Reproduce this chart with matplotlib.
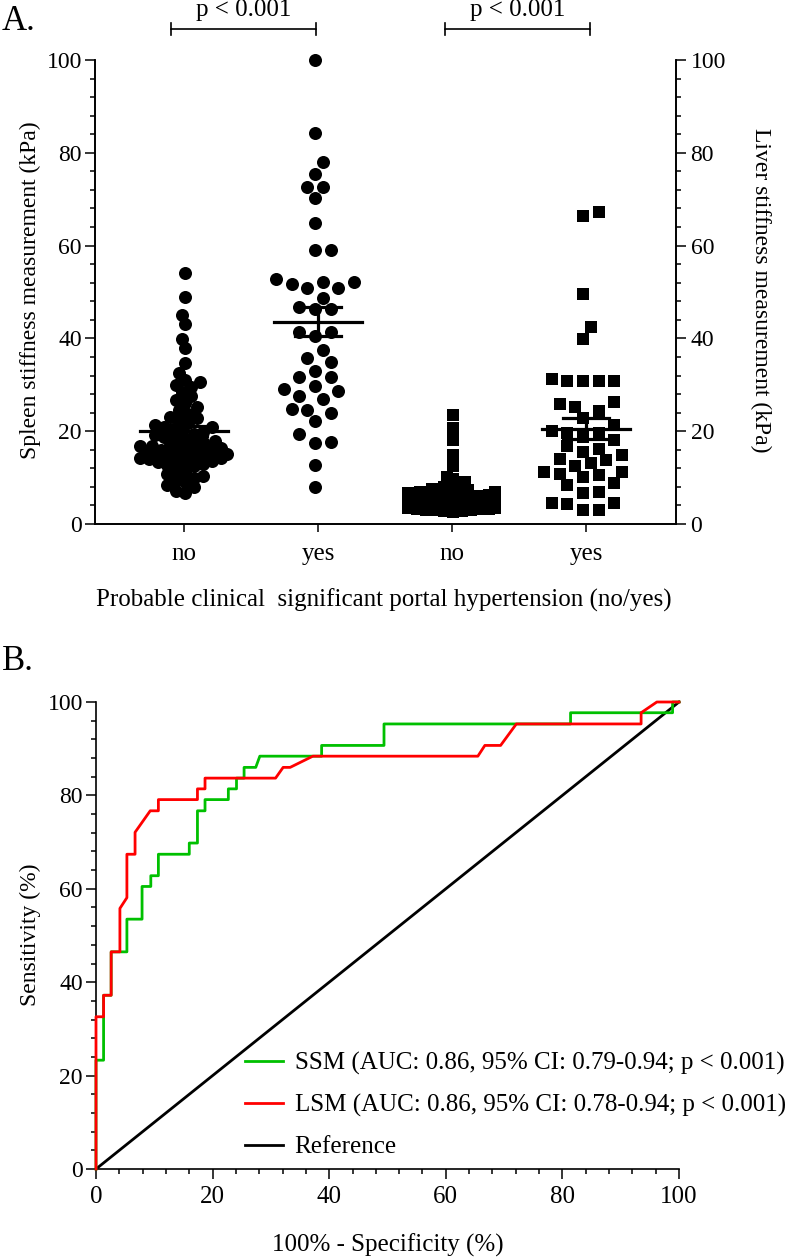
import numpy as np
import matplotlib
matplotlib.use("Agg")
import matplotlib.pyplot as plt
from matplotlib.ticker import MultipleLocator

plt.rcParams['font.family'] = ['Liberation Serif', 'DejaVu Serif']
plt.rcParams['font.size'] = 17

# ---- panel A: stiffness values (kPa) ----
ssm_no = [54.0, 49.0, 45.0, 43.1, 39.8, 37.9, 34.6, 32.6, 31.0, 30.5, 30.0,
          29.5, 28.5, 27.5, 26.8, 26.0, 25.2, 24.5, 23.8, 23.0, 22.4, 22.8, 21.0,
          21.8, 21.3, 20.9, 20.5, 20.1, 19.8, 19.5, 19.1, 18.8, 18.5, 18.2,
          17.9, 17.6, 17.3, 17.0, 16.8, 16.6, 16.4, 16.2, 16.0, 15.8, 15.6, 15.4,
          15.2, 15.1, 15.0, 14.8, 14.7, 14.6, 14.5, 14.4, 14.3, 14.2, 14.0, 13.8,
          13.6, 13.4, 13.2, 13.0, 16.9,
          12.7, 12.4, 11.8, 11.1, 10.7, 10.3, 9.9, 9.5, 9.0, 8.5, 7.9, 7.2, 6.6]
ssm_yes = [100.0, 84.2, 78.1, 75.4, 72.7, 72.7, 70.2, 64.8, 59.1, 59.1, 52.7, 51.7,
           52.2, 52.2, 50.8, 50.8, 48.8, 46.8, 46.4, 46.4, 41.4, 40.5, 41.4, 37.5,
           35.0, 35.7, 33.0, 31.6, 31.6, 29.8, 29.0, 28.7, 26.9, 27.5, 24.8, 23.9,
           24.6, 22.1, 19.4, 17.4, 17.7, 12.7, 8.0]
lsm_no = [23.5, 20.6, 18.1, 14.9, 12.4, 10.2, 9.6, 9.0, 8.6, 8.2, 7.9, 7.6, 7.4,
          7.2, 7.0, 6.8, 6.6, 6.5, 6.4, 6.2, 6.1, 6.0, 5.9, 5.8, 5.7, 5.6, 5.5, 5.4,
          5.3, 5.2, 5.1, 5.0, 4.9, 4.8, 4.7, 4.6, 4.5, 4.4, 4.3, 4.2, 4.1, 4.0, 3.9,
          3.8, 3.7, 3.6, 3.5, 3.4, 3.3, 3.2, 3.1, 3.0, 2.9, 2.8, 2.6, 6.9, 6.3, 5.9,
          5.5, 5.0, 4.8, 4.5, 4.2, 4.0, 3.8, 3.6, 3.4, 3.2, 3.0, 5.2, 4.6, 4.4, 3.9,
          3.5, 5.6, 6.1]
lsm_yes = [67.3, 66.4, 49.5, 42.4, 39.8, 30.9, 30.9, 30.9, 30.9, 31.3, 26.4, 25.9,
           25.3, 24.4, 22.9, 21.3, 20.1, 19.6, 19.6, 18.0, 18.7, 16.2, 15.6, 16.8,
           14.9, 14.0, 13.8, 13.2, 12.4, 11.3, 11.2, 10.8, 10.5, 10.2, 8.8, 8.3,
           6.6, 6.8, 4.5, 4.6, 4.4, 3.0, 3.1]
group_labels = ["no", "yes", "no", "yes"]

# ---- panel B: ROC curve vertices (100% - specificity, sensitivity) ----
ssm_fpr = [0, 0, 1.3, 1.3, 2.6, 2.6, 5.3, 5.3, 7.9, 7.9, 9.4, 9.4, 10.7, 10.7,
           16.0, 16.0, 17.4, 17.4, 18.7, 18.7, 22.7, 22.7, 24.1, 24.1, 25.4, 25.4,
           27.4, 28.1, 38.7, 38.7, 49.4, 49.4, 81.4, 81.4, 98.9, 98.9, 100]
ssm_tpr = [0, 23.3, 23.3, 37.2, 37.2, 46.5, 46.5, 53.5, 53.5, 60.5, 60.5, 62.8,
           62.8, 67.4, 67.4, 69.8, 69.8, 76.7, 76.7, 79.1, 79.1, 81.4, 81.4, 83.7,
           83.7, 86.0, 86.0, 88.4, 88.4, 90.7, 90.7, 95.3, 95.3, 97.7, 97.7, 100, 100]
lsm_fpr = [0, 0, 1.3, 1.3, 2.6, 2.6, 4.1, 4.1, 5.3, 5.3, 6.7, 6.7, 9.3, 10.7, 10.7,
           17.4, 17.4, 18.7, 18.7, 30.8, 32.1, 33.3, 37.2, 65.5, 66.7, 69.4, 72.1,
           93.5, 93.5, 96.2, 100]
lsm_tpr = [0, 32.6, 32.6, 37.2, 37.2, 46.5, 46.5, 55.8, 58.1, 67.4, 67.4, 72.1,
           76.7, 76.7, 79.1, 79.1, 81.4, 81.4, 83.7, 83.7, 86.0, 86.0, 88.4, 88.4,
           90.7, 90.7, 95.3, 95.3, 97.7, 100, 100]
legend_labels = ["SSM (AUC: 0.86, 95% CI: 0.79-0.94; p < 0.001)",
                 "LSM (AUC: 0.86, 95% CI: 0.78-0.94; p < 0.001)",
                 "Reference"]


def swarm_offsets(values, px_x, px_y, diam, step, cap):
    # simple column swarm, falls back to least overlap when the column is full
    values = np.asarray(values, dtype=float)
    cands = np.arange(-cap, cap + 0.01, step)
    cands = cands[np.argsort(np.abs(cands), kind='stable')]
    placed = []
    offs = np.zeros(len(values))
    for i in np.argsort(values):
        y = values[i] * px_y
        best, best_d = 0.0, -1.0
        for c in cands:
            d = min([np.hypot(c - a, y - b) for a, b in placed], default=np.inf)
            if d >= diam:
                best = c
                break
            if d > best_d:
                best_d, best = d, c
        offs[i] = best
        placed.append((best, y))
    return offs / px_x


fig = plt.figure(figsize=(7.9, 12.59), dpi=100)
W, H = 790, 1259

# ================= panel A =================
ax = fig.add_axes([95 / W, 1 - 524 / H, (676 - 95) / W, (524 - 60) / H])
ax2 = ax.twinx()
pos = [1, 2, 3, 4]
ax.set_xlim(0.336, 4.672)
ax.set_ylim(0, 100)
ax2.set_ylim(0, 100)

px_x, px_y = 134.0, 4.64
groups = [ssm_no, ssm_yes, lsm_no, lsm_yes]
markers = ['o', 'o', 's', 's']
sizes = [88, 88, 76, 76]
# swarm settings per group: effective diameter (px), step (px), half width cap (px)
swarm_cfg = [(9.0, 3.0, 44), (13.5, 7.8, 42), (6.2, 3.0, 44), (12.5, 7.8, 42)]
for p, vals, m, s, cfg in zip(pos, groups, markers, sizes, swarm_cfg):
    xo = swarm_offsets(vals, px_x, px_y, *cfg)
    ax.scatter(p + xo, vals, marker=m, s=s, c='black', linewidths=0, zorder=3, clip_on=False)
    mean = np.mean(vals)
    sem = np.std(vals, ddof=1) / np.sqrt(len(vals))
    ax.plot([p - 0.33, p + 0.33], [mean, mean], color='black', lw=2.3, zorder=4)
    ax.plot([p - 0.17, p + 0.17], [mean + sem] * 2, color='black', lw=2.3, zorder=4)
    ax.plot([p - 0.17, p + 0.17], [mean - sem] * 2, color='black', lw=2.3, zorder=4)
    ax.plot([p, p], [mean - sem, mean + sem], color='black', lw=2.3, zorder=4)

ax.set_xticks(pos)
ax.set_xticklabels(group_labels, fontsize=18)
for a in (ax, ax2):
    a.spines['top'].set_visible(False)
    for sp in a.spines.values():
        sp.set_linewidth(1.2)
    a.yaxis.set_major_locator(MultipleLocator(20))
    a.yaxis.set_minor_locator(MultipleLocator(4))
ax.tick_params(axis='y', which='major', length=7.5, width=1.1, pad=2)
ax.tick_params(axis='y', which='minor', length=3.8, width=1.1)
ax.tick_params(axis='x', length=6, width=1.1, pad=8)
ax2.tick_params(axis='y', which='major', length=7.5, width=1.1, pad=3)
ax2.tick_params(axis='y', which='minor', length=3.8, width=1.1)

# significance brackets
for x0, x1 in [(0.90, 1.985), (2.95, 4.03)]:
    ax.plot([x0, x0, x1, x1], [105.3, 106.6, 106.6, 105.3], color='black', lw=1.2,
            clip_on=False)
    ax.plot([x0, x0], [106.6, 107.9], color='black', lw=1.2, clip_on=False)
    ax.plot([x1, x1], [106.6, 107.9], color='black', lw=1.2, clip_on=False)
    ax.text((x0 + x1) / 2, 108.3, "p < 0.001", ha='center', va='bottom', clip_on=False,
            fontsize=18)

fig.text(2 / W, 1 - 21 / H, "A.", fontsize=25, ha='left', va='center')
fig.text(30 / W, 1 - 290 / H, "Spleen stiffness measurement (kPa)", rotation=90,
         ha='center', va='center')
fig.text(761 / W, 1 - 290 / H, "Liver stiffness measurement (kPa)", rotation=270,
         ha='center', va='center')
fig.text(384 / W, 1 - 600 / H, "Probable clinical  significant portal hypertension (no/yes)",
         ha='center', va='center', fontsize=18)

# ================= panel B =================
bx = fig.add_axes([96 / W, 1 - 1169 / H, (679 - 96) / W, (1169 - 702) / H])
bx.plot([0, 100], [0, 100], color='black', lw=2.0, clip_on=False, label=legend_labels[2], zorder=2)
bx.plot(ssm_fpr, ssm_tpr, color='#00c000', lw=2.0, clip_on=False, label=legend_labels[0], zorder=3)
bx.plot(lsm_fpr, lsm_tpr, color='#ff0000', lw=2.0, clip_on=False, label=legend_labels[1], zorder=4)
bx.set_xlim(0, 100)
bx.set_ylim(0, 100)
bx.spines['top'].set_visible(False)
bx.spines['right'].set_visible(False)
for sp in bx.spines.values():
    sp.set_linewidth(1.2)
for axis in (bx.xaxis, bx.yaxis):
    axis.set_major_locator(MultipleLocator(20))
    axis.set_minor_locator(MultipleLocator(4))
bx.tick_params(which='major', length=7.5, width=1.1)
bx.tick_params(which='minor', length=3.8, width=1.1)
bx.tick_params(axis='y', pad=2)
bx.tick_params(axis='x', pad=5, labelsize=18)

h, l = bx.get_legend_handles_labels()
bx.legend([h[1], h[2], h[0]], [l[1], l[2], l[0]], loc='upper left',
          bbox_to_anchor=(0.255, 0.25), frameon=False, borderpad=0, borderaxespad=0,
          handlelength=1.55, handletextpad=0.45, labelspacing=0.75, fontsize=18)

fig.text(2 / W, 1 - 661 / H, "B.", fontsize=25, ha='left', va='center')
fig.text(30 / W, 1 - 935 / H, "Sensitivity (%)", rotation=90, ha='center', va='center')
fig.text(388 / W, 1 - 1245 / H, "100% - Specificity (%)", ha='center', va='center', fontsize=18)

fig.savefig("out.png", dpi=100)
